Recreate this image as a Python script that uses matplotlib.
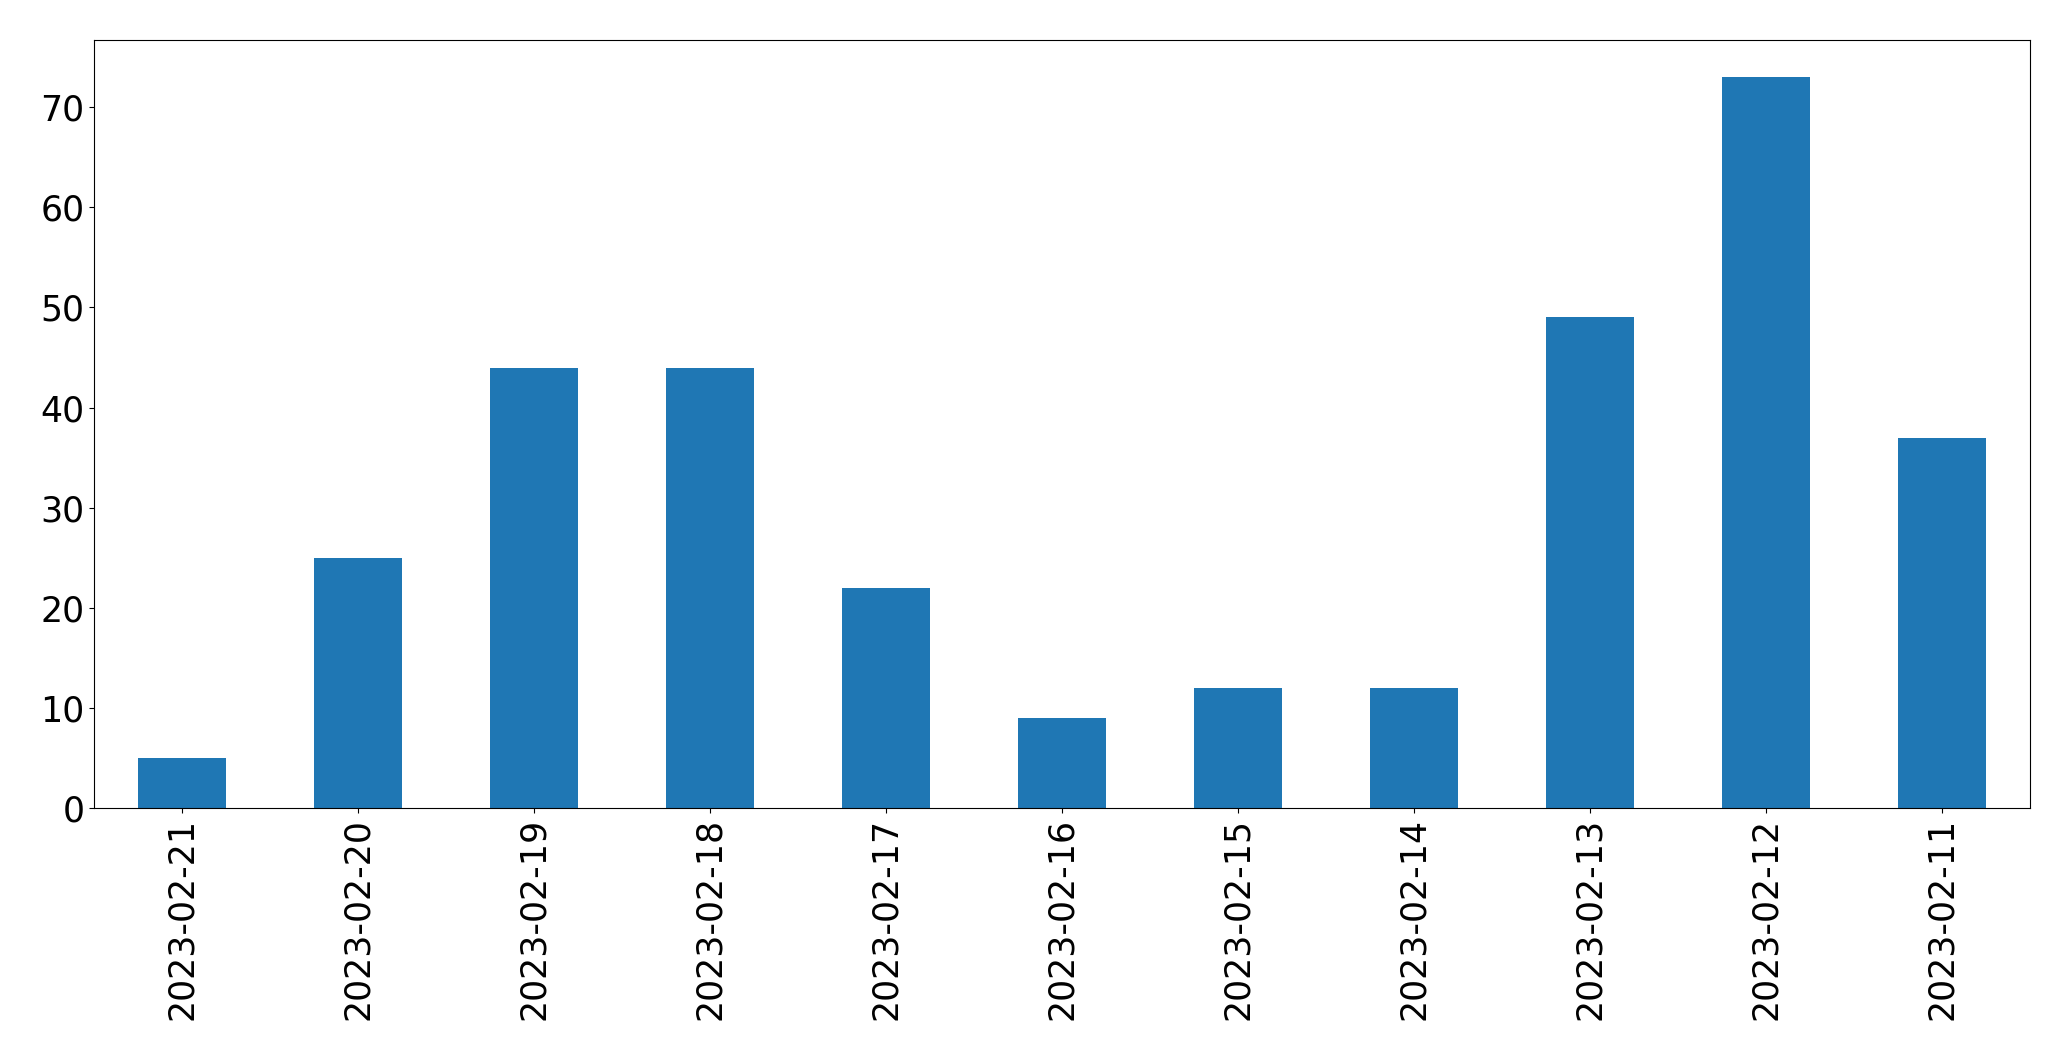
import pandas as pd
import matplotlib
matplotlib.use("Agg")
import matplotlib.pyplot as plt

# -------------------------
# Data
# -------------------------
dates = ["2023-02-21", "2023-02-20", "2023-02-19", "2023-02-18", "2023-02-17",
         "2023-02-16", "2023-02-15", "2023-02-14", "2023-02-13", "2023-02-12",
         "2023-02-11"]
counts = [5, 25, 44, 44, 22, 9, 12, 12, 49, 73, 37]

series = pd.Series(counts, index=dates)

# -------------------------
# Plot
# -------------------------
fig, ax = plt.subplots(figsize=(20.71, 10.61), dpi=100)
series.plot(kind="bar", ax=ax, color="#1f77b4")
ax.tick_params(axis="both", labelsize=25)
fig.subplots_adjust(left=0.0454, right=0.980, top=0.962, bottom=0.238)

plt.savefig("out.png")
